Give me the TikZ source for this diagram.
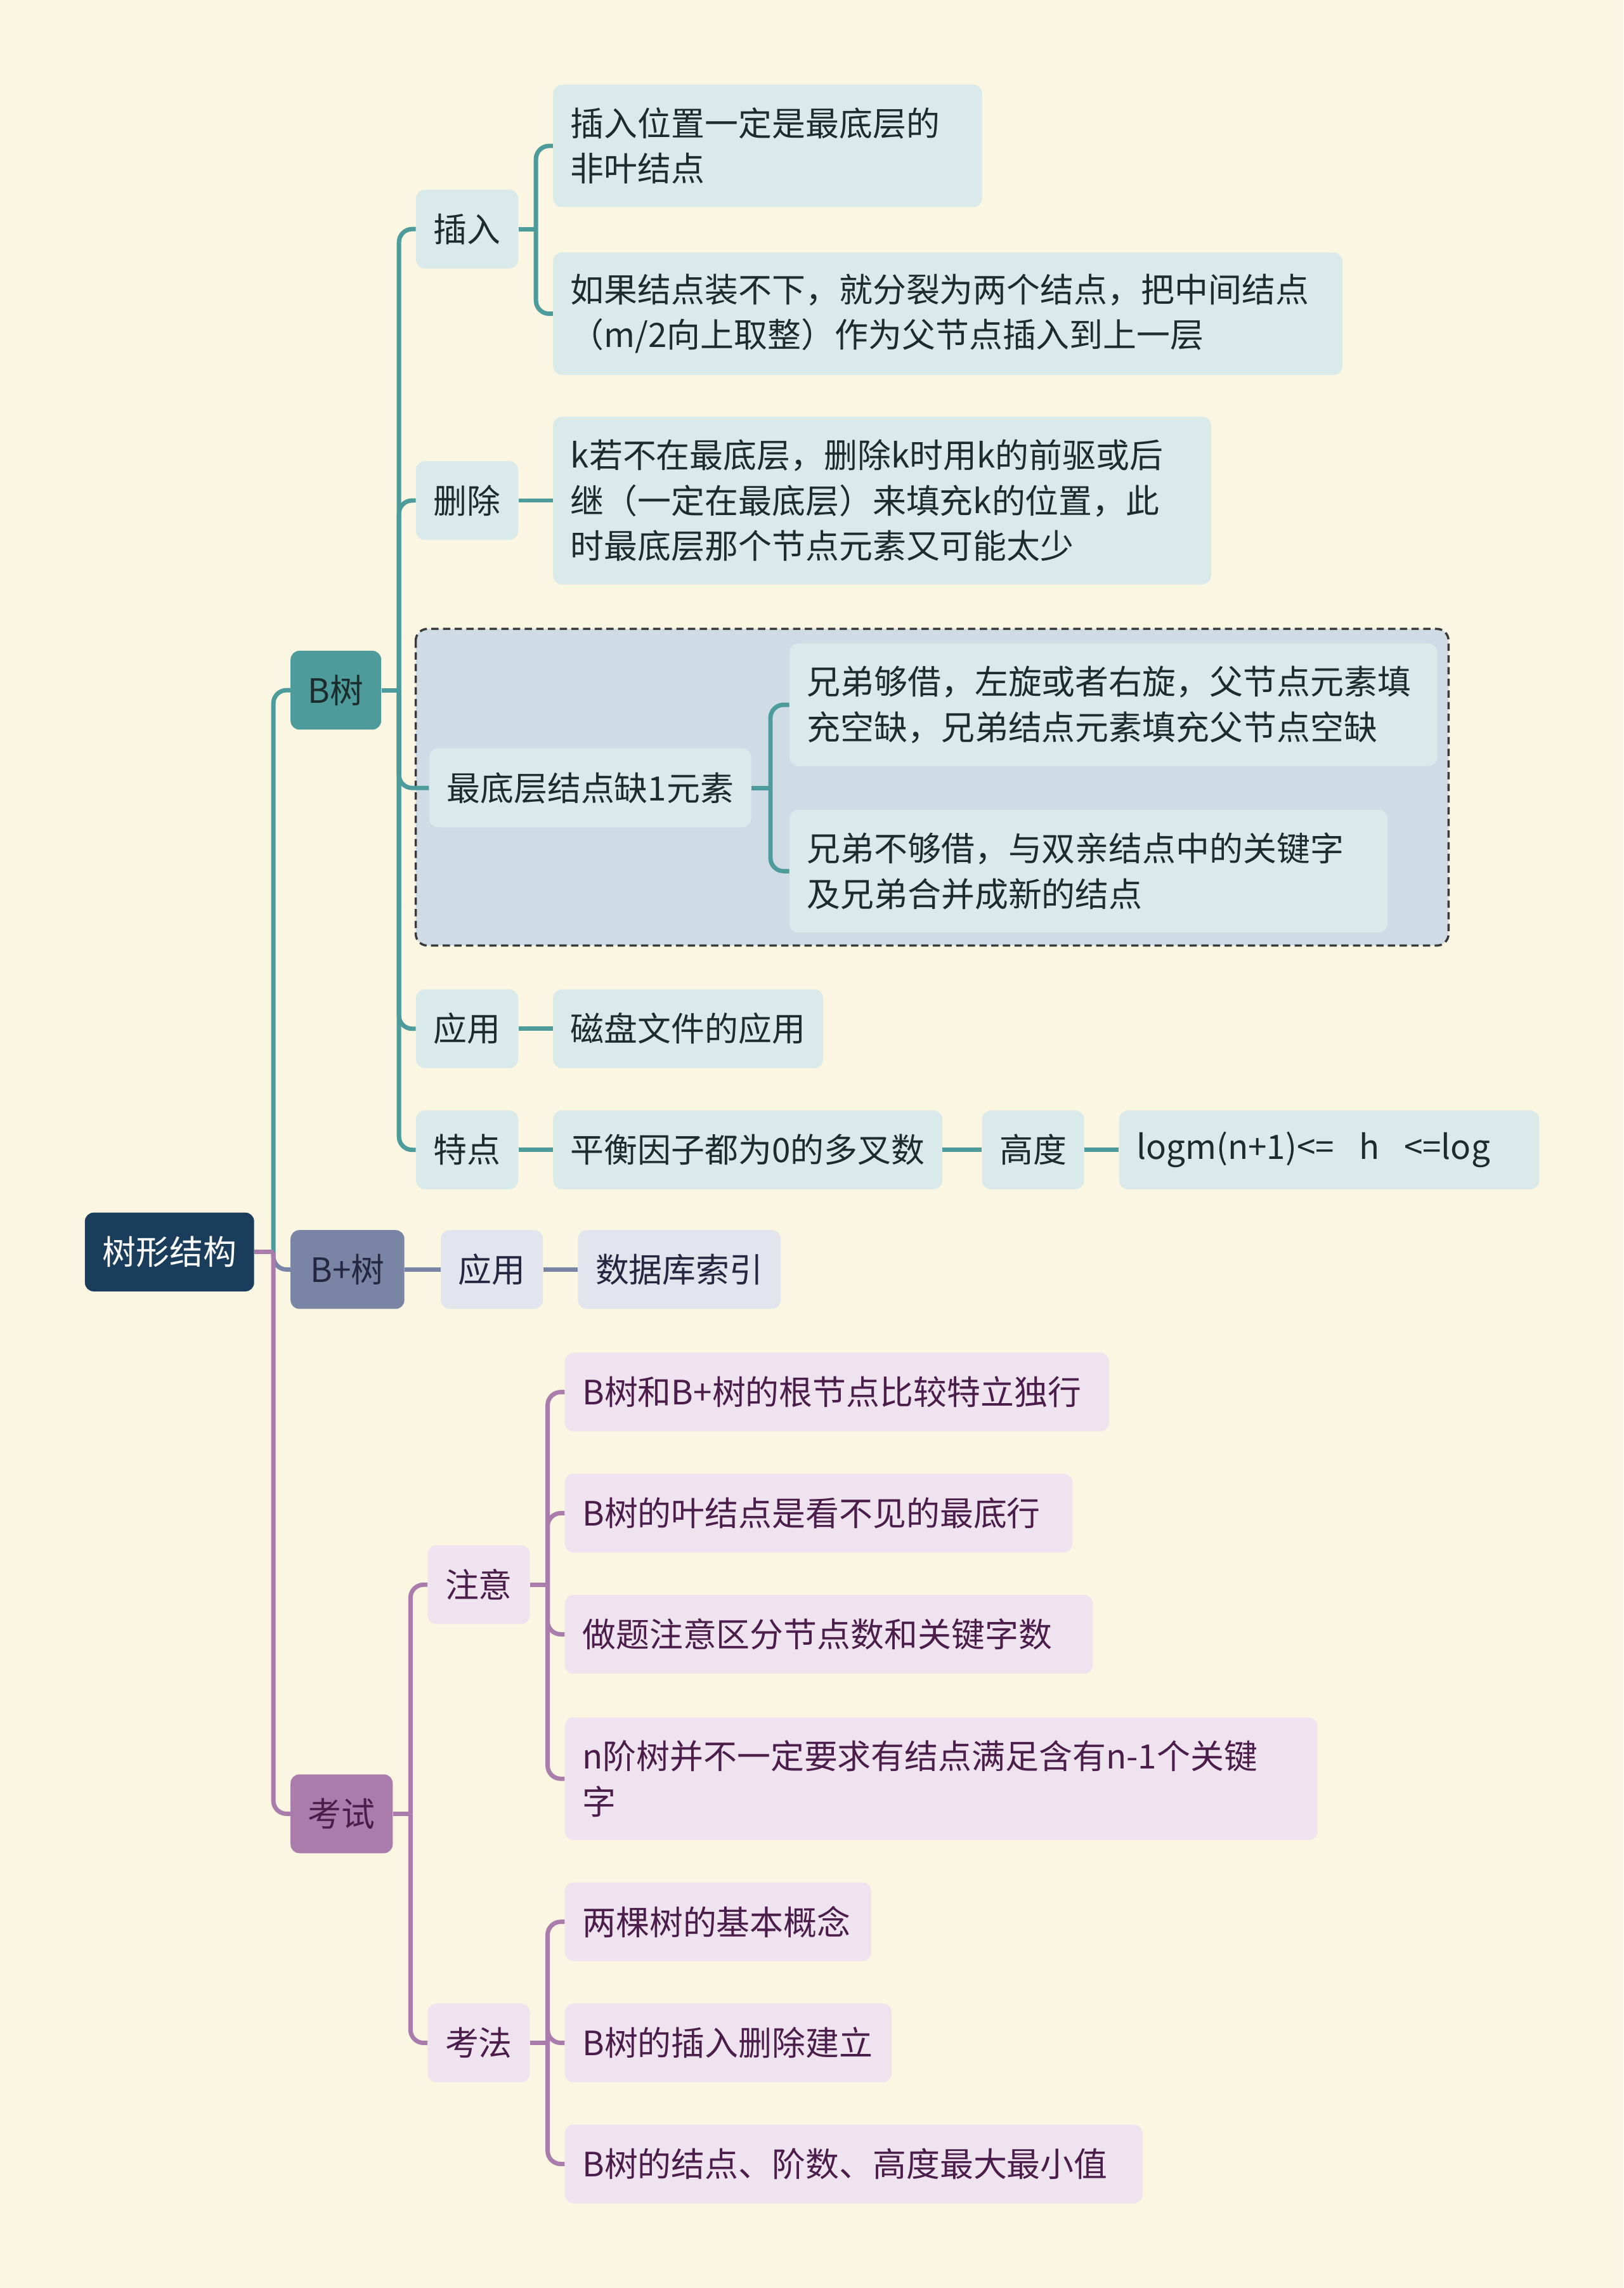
\documentclass[tikz,border=0pt]{standalone}
\usepackage{fontspec}
\setmainfont{Noto Sans CJK SC}
\definecolor{bgcream}{HTML}{FAF6E1}
\definecolor{rootfill}{HTML}{1B3D5C}
\definecolor{tealmain}{HTML}{4E9B9B}
\definecolor{teallight}{HTML}{DAEAEA}
\definecolor{tealdark}{HTML}{1C2C2C}
\definecolor{slatemain}{HTML}{7A85A6}
\definecolor{slatelight}{HTML}{E3E5EE}
\definecolor{slatedark}{HTML}{25263F}
\definecolor{purplemain}{HTML}{A97CAB}
\definecolor{purplelight}{HTML}{EEE3EE}
\definecolor{purpledark}{HTML}{4A1D4A}
\definecolor{groupfill}{HTML}{CFDCE5}
\definecolor{groupedge}{HTML}{3A3A3A}

\begin{document}
\begin{tikzpicture}
  [
    x                 = 1pt,
    y                 = -1pt,
    every node/.style = {font=\fontsize{23}{31}\selectfont, anchor=west,
                         rounded corners=6pt, inner xsep=12pt, inner ysep=3pt,
                         minimum height=54pt},
    rootbox/.style    = {fill=rootfill, text=white},
    bbox/.style       = {fill=tealmain, text=tealdark},
    btopic/.style     = {fill=teallight, text=tealdark},
    bline/.style      = {draw=tealmain, line width=3pt, rounded corners=9pt},
    pbox/.style       = {fill=slatemain, text=slatedark},
    ptopic/.style     = {fill=slatelight, text=slatedark},
    pline/.style      = {draw=slatemain, line width=3pt, rounded corners=9pt},
    kbox/.style       = {fill=purplemain, text=purpledark},
    ktopic/.style     = {fill=purplelight, text=purpledark},
    kline/.style      = {draw=purplemain, line width=3pt, rounded corners=9pt},
    wrapped/.style    = {align=left, text width=#1},
    twolines/.style   = {minimum height=84pt},
    threelines/.style = {minimum height=115pt},
    groupbox/.style   = {fill=groupfill, draw=groupedge, line width=1.5pt,
                         dash pattern=on 5pt off 3pt, rounded corners=8pt}
  ]
  \fill[bgcream] (0,0) rectangle (1113,1568);
  \draw[groupbox] (285,431) rectangle (993,648);

  \node[rootbox] (root) at (58,858) {树形结构};

  \node[bbox] (btree) at (199,473) {B树};
  \node[btopic] (ins) at (285,157) {插入};
  \node[btopic, wrapped=270pt, twolines] (ins1) at (379,100)
    {插入位置一定是最底层的\\非叶结点};
  \node[btopic, wrapped=517pt, twolines] (ins2) at (379,215)
    {如果结点装不下，就分裂为两个结点，把中间结点\\（m/2向上取整）作为父节点插入到上一层};
  \node[btopic] (del) at (285,343) {删除};
  \node[btopic, wrapped=427pt, threelines] (del1) at (379,343)
    {k若不在最底层，删除k时用k的前驱或后\\继（一定在最底层）来填充k的位置，此\\时最底层那个节点元素又可能太少};
  \node[btopic] (low) at (294,540) {最底层结点缺1元素};
  \node[btopic, wrapped=420pt, twolines] (low1) at (541,483)
    {兄弟够借，左旋或者右旋，父节点元素填\\充空缺，兄弟结点元素填充父节点空缺};
  \node[btopic, wrapped=386pt, twolines] (low2) at (541,597)
    {兄弟不够借，与双亲结点中的关键字\\及兄弟合并成新的结点};
  \node[btopic] (use) at (285,705) {应用};
  \node[btopic] (use1) at (379,705) {磁盘文件的应用};
  \node[btopic] (feat) at (285,788) {特点};
  \node[btopic] (feat1) at (379,788) {平衡因子都为0的多叉数};
  \node[btopic] (height) at (673,788) {高度};
  \node[btopic, wrapped=264pt] (hform) at (767,788)
    {logm(n+1)<=\hspace{17pt}h\hspace{17pt}<=log};

  \node[pbox, minimum width=78pt] (bplus) at (199,870) {B+树};
  \node[ptopic] (buse) at (302,870) {应用};
  \node[ptopic] (bidx) at (396,870) {数据库索引};

  \node[kbox] (exam) at (199,1243) {考试};
  \node[ktopic] (note) at (293,1086) {注意};
  \node[ktopic, wrapped=349pt] (note1) at (387,954) {B树和B+树的根节点比较特立独行};
  \node[ktopic, wrapped=324pt] (note2) at (387,1037) {B树的叶结点是看不见的最底行};
  \node[ktopic, wrapped=338pt] (note3) at (387,1120) {做题注意区分节点数和关键字数};
  \node[ktopic, wrapped=492pt, twolines] (note4) at (387,1219)
    {n阶树并不一定要求有结点满足含有n-1个关键\\字};
  \node[ktopic] (method) at (293,1400) {考法};
  \node[ktopic, wrapped=186pt] (meth1) at (387,1317) {两棵树的基本概念};
  \node[ktopic, wrapped=200pt] (meth2) at (387,1400) {B树的插入删除建立};
  \node[ktopic, wrapped=372pt] (meth3) at (387,1483) {B树的结点、阶数、高度最大最小值};

  \draw[bline] (root.east) ++(13,0) |- (btree.west);
  \draw[bline] (btree.east) -- ++(12,0);
  \foreach \kid in {ins, del, low, use, feat}
    \draw[bline] (btree.east) ++(12,0) |- (\kid.west);
  \draw[bline] (ins.east) -- ++(12,0);
  \foreach \kid in {ins1, ins2}
    \draw[bline] (ins.east) ++(12,0) |- (\kid.west);
  \draw[bline] (del.east) -- (del1.west);
  \draw[bline] (low.east) -- ++(13,0);
  \foreach \kid in {low1, low2}
    \draw[bline] (low.east) ++(13,0) |- (\kid.west);
  \draw[bline] (use.east) -- (use1.west);
  \draw[bline] (feat.east) -- (feat1.west);
  \draw[bline] (feat1.east) -- (height.west);
  \draw[bline] (height.east) -- (hform.west);

  \draw[pline] (root.east) ++(13,0) |- (bplus.west);
  \draw[pline] (bplus.east) -- (buse.west);
  \draw[pline] (buse.east) -- (bidx.west);

  \draw[kline] (root.east) ++(13,0) |- (exam.west);
  \draw[kline] (root.east) -- ++(13,0);
  \draw[kline] (exam.east) -- ++(12,0);
  \foreach \kid in {note, method}
    \draw[kline] (exam.east) ++(12,0) |- (\kid.west);
  \draw[kline] (note.east) -- ++(12,0);
  \foreach \kid in {note1, note2, note3, note4}
    \draw[kline] (note.east) ++(12,0) |- (\kid.west);
  \draw[kline] (method.east) -- ++(12,0);
  \foreach \kid in {meth1, meth2, meth3}
    \draw[kline] (method.east) ++(12,0) |- (\kid.west);
\end{tikzpicture}
\end{document}
